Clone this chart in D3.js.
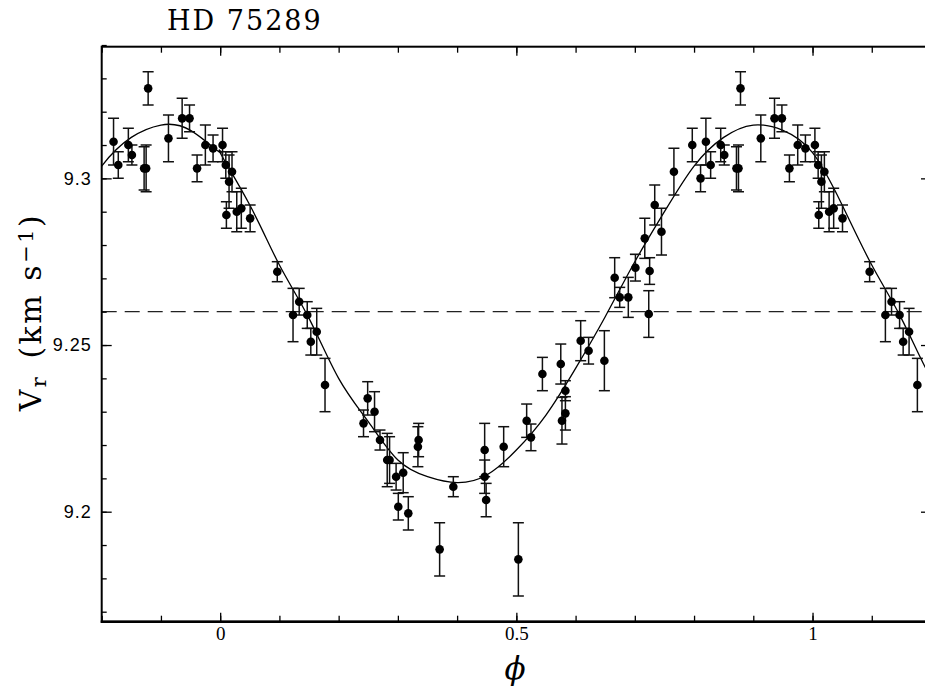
<!DOCTYPE html>
<html>
<head>
<meta charset="utf-8">
<script src="https://cdn.jsdelivr.net/npm/d3@7"></script>
<style>
  body { margin: 0; background: #fff; }
  svg { display: block; }
</style>
</head>
<body>
<div class="chart"></div>
<script>
// radial velocity measurements, one orbital cycle (phase 0..1)
const phase = [0.004, 0.0095, 0.015, 0.0105, 0.020, 0.028, 0.0357, 0.0506, 0.0964,
  0.123, 0.1334, 0.147, 0.153, 0.163, 0.177,
  0.242, 0.249, 0.2606, 0.2698, 0.282, 0.286, 0.297, 0.309, 0.3007, 0.3176, 0.3338, 0.335,
  0.3705, 0.3936, 0.4465, 0.4465, 0.449, 0.4786, 0.5034,
  0.5174, 0.5247, 0.544, 0.575, 0.5828, 0.577, 0.5828, 0.6086, 0.622, 0.6486,
  0.666, 0.6745, 0.689, 0.701, 0.7168, 0.7235, 0.725, 0.7336, 0.745, 0.766,
  0.797, 0.811, 0.820, 0.828, 0.845, 0.851, 0.8716, 0.875, 0.8784,
  0.9127, 0.9358, 0.9483, 0.961, 0.975, 0.988];
const vr = [9.310, 9.304, 9.299, 9.289, 9.302, 9.290, 9.291, 9.288, 9.272,
  9.259, 9.263, 9.259, 9.251, 9.254, 9.238,
  9.2265, 9.234, 9.230, 9.2215, 9.2155, 9.2155, 9.2105, 9.2117, 9.2015, 9.1995, 9.2195, 9.2215,
  9.1887, 9.2075, 9.2185, 9.2105, 9.2035, 9.2195, 9.1857,
  9.2273, 9.2223, 9.2413, 9.2443, 9.2363, 9.2273, 9.2295, 9.2513, 9.2483, 9.2453,
  9.2702, 9.2643, 9.2643, 9.2732, 9.282, 9.2593, 9.2722, 9.292, 9.284, 9.302,
  9.310, 9.300, 9.311, 9.304, 9.310, 9.307, 9.303, 9.303, 9.327,
  9.312, 9.318, 9.318, 9.303, 9.310, 9.309];
const err = [0.005, 0.004, 0.008, 0.004, 0.006, 0.006, 0.006, 0.004, 0.003,
  0.008, 0.004, 0.004, 0.004, 0.007, 0.008,
  0.004, 0.005, 0.006, 0.003, 0.008, 0.007, 0.004, 0.006, 0.004, 0.005, 0.006, 0.005,
  0.008, 0.003, 0.008, 0.005, 0.005, 0.006, 0.011,
  0.005, 0.004, 0.005, 0.006, 0.003, 0.007, 0.005, 0.006, 0.004, 0.009,
  0.006, 0.003, 0.006, 0.004, 0.006, 0.007, 0.004, 0.006, 0.007, 0.007,
  0.005, 0.004, 0.007, 0.004, 0.005, 0.003, 0.0065, 0.007, 0.005,
  0.007, 0.006, 0.004, 0.004, 0.006, 0.004];

// orbital fit
const fitPhase = [0, 0.05, 0.10, 0.15, 0.20, 0.25, 0.30, 0.35, 0.40, 0.45, 0.50,
  0.55, 0.60, 0.65, 0.70, 0.75, 0.80, 0.85, 0.90, 0.95, 1.0];
const fitVr = [9.3077, 9.292, 9.274, 9.258, 9.240, 9.227, 9.2155, 9.2105, 9.2087, 9.211, 9.2185,
  9.229, 9.243, 9.2585, 9.275, 9.290, 9.3037, 9.3123, 9.316, 9.3144, 9.3077];

const vSys = 9.26;
const xMajor = [0, 0.5, 1];
const xLabels = ["0", "0.5", "1"];
const yMajor = [9.2, 9.25, 9.3];
const yLabels = ["9.2", "9.25", "9.3"];
const title = "HD 75289";

const W = 925, H = 686;
const margin = { top: 46.7, left: 101.7, right: 931, bottom: 621.7 };

const svg = d3.select(".chart").append("svg")
  .attr("width", W).attr("height", H)
  .style("background", "#fff");

const x = d3.scaleLinear().domain([-0.2, 1.2]).range([margin.left, margin.right]);
const y = d3.scaleLinear().domain([9.167, 9.3395]).range([margin.bottom, margin.top]);

svg.append("defs").append("clipPath").attr("id", "plot")
  .append("rect")
  .attr("x", margin.left).attr("y", margin.top)
  .attr("width", margin.right - margin.left).attr("height", margin.bottom - margin.top);

// points repeated one cycle either side, as the figure shows them
let pts = [];
phase.forEach((p, i) => {
  [p - 1, p, p + 1].forEach(q => {
    if (q >= -0.185 && q <= 1.2) pts.push({ p: q, v: vr[i], e: err[i] });
  });
});

const plot = svg.append("g").attr("clip-path", "url(#plot)");

// systemic velocity
plot.append("line")
  .attr("x1", margin.left).attr("x2", margin.right)
  .attr("y1", y(vSys)).attr("y2", y(vSys))
  .style("stroke", "#222").style("stroke-width", 1.2)
  .style("stroke-dasharray", "15,8");

// fitted curve over three cycles
let fit = [];
[-1, 0, 1].forEach(k => {
  fitPhase.forEach((p, i) => {
    if (k !== 0 && i === 0) return;
    fit.push([p + k, fitVr[i]]);
  });
});
fit = fit.filter(d => d[0] >= -0.3 && d[0] <= 1.3);

plot.append("path")
  .datum(fit)
  .attr("d", d3.line().x(d => x(d[0])).y(d => y(d[1])).curve(d3.curveNatural))
  .style("fill", "none").style("stroke", "#000").style("stroke-width", 1.3);

// error bars
const bars = plot.selectAll(".bar").data(pts).enter().append("g").attr("class", "bar")
  .style("stroke", "#111").style("stroke-width", 1.5);
bars.append("line")
  .attr("x1", d => x(d.p)).attr("x2", d => x(d.p))
  .attr("y1", d => y(d.v + d.e)).attr("y2", d => y(d.v - d.e));
bars.append("line")
  .attr("x1", d => x(d.p) - 5.5).attr("x2", d => x(d.p) + 5.5)
  .attr("y1", d => y(d.v + d.e)).attr("y2", d => y(d.v + d.e));
bars.append("line")
  .attr("x1", d => x(d.p) - 5.5).attr("x2", d => x(d.p) + 5.5)
  .attr("y1", d => y(d.v - d.e)).attr("y2", d => y(d.v - d.e));

plot.selectAll(".pt").data(pts).enter().append("circle").attr("class", "pt")
  .attr("cx", d => x(d.p)).attr("cy", d => y(d.v))
  .attr("r", 4.3).style("fill", "#000");

// axes: ticks point inward on all four sides
const xMinor = d3.range(-0.2, 1.21, 0.1).map(d => +d.toFixed(2));
const yMinor = d3.range(9.17, 9.341, 0.01).map(d => +d.toFixed(2));

function tickAxis(axis, transform) {
  const g = svg.append("g").attr("transform", transform).call(axis);
  g.select(".domain").remove();
  g.selectAll("line").style("stroke", "#000").style("stroke-width", 1.3);
  return g;
}

tickAxis(d3.axisBottom(x).tickValues(xMinor).tickSize(-6).tickFormat(""), `translate(0,${margin.bottom})`);
tickAxis(d3.axisTop(x).tickValues(xMinor).tickSize(-6).tickFormat(""), `translate(0,${margin.top})`);
tickAxis(d3.axisTop(x).tickValues(xMajor).tickSize(-9).tickFormat(""), `translate(0,${margin.top})`);
const xb = tickAxis(d3.axisBottom(x).tickValues(xMajor).tickSize(-9).tickPadding(5)
  .tickFormat((d, i) => xLabels[i]), `translate(0,${margin.bottom})`);
xb.selectAll("text")
  .style("font-family", "'Liberation Serif', serif").style("font-size", "19px").style("fill", "#000");

tickAxis(d3.axisLeft(y).tickValues(yMinor).tickSize(-5).tickFormat(""), `translate(${margin.left},0)`);
tickAxis(d3.axisRight(y).tickValues(yMinor).tickSize(-5).tickFormat(""), `translate(${margin.right},0)`);
tickAxis(d3.axisRight(y).tickValues(yMajor).tickSize(-10).tickFormat(""), `translate(${margin.right},0)`);
const yl = tickAxis(d3.axisLeft(y).tickValues(yMajor).tickSize(-10).tickPadding(10)
  .tickFormat((d, i) => yLabels[i]), `translate(${margin.left},0)`);
yl.selectAll("text")
  .style("font-family", "'Liberation Sans', Arial, sans-serif").style("font-size", "18px")
  .style("letter-spacing", "1px").style("fill", "#000");

// frame
svg.append("rect")
  .attr("x", margin.left).attr("y", margin.top)
  .attr("width", margin.right - margin.left).attr("height", margin.bottom - margin.top)
  .style("fill", "none").style("stroke", "#000").style("stroke-width", 2);
svg.append("line")
  .attr("x1", margin.left - 1).attr("x2", margin.right)
  .attr("y1", margin.bottom).attr("y2", margin.bottom)
  .style("stroke", "#000").style("stroke-width", 2.6);

// labels
svg.append("text")
  .attr("x", 167).attr("y", 29.5)
  .style("font-family", "'DejaVu Serif', serif").style("font-size", "27px")
  .style("letter-spacing", "2px")
  .text(title);

svg.append("text")
  .attr("x", 515).attr("y", 679)
  .attr("text-anchor", "middle")
  .style("font-family", "'DejaVu Serif', serif").style("font-style", "italic")
  .style("font-size", "31px")
  .text("\u03d5");

const ylab = svg.append("text")
  .attr("transform", "translate(41,312) rotate(-90)")
  .attr("text-anchor", "middle")
  .style("font-family", "'DejaVu Serif', serif").style("font-size", "30px")
  .style("letter-spacing", "2.5px");
ylab.append("tspan").text("V");
ylab.append("tspan").attr("baseline-shift", "-25%").style("font-size", "21px").text("r");
ylab.append("tspan").attr("dx", 16).text("(km s");
ylab.append("tspan").attr("baseline-shift", "40%").style("font-size", "21px").text("\u22121");
ylab.append("tspan").text(")");
</script>
</body>
</html>
